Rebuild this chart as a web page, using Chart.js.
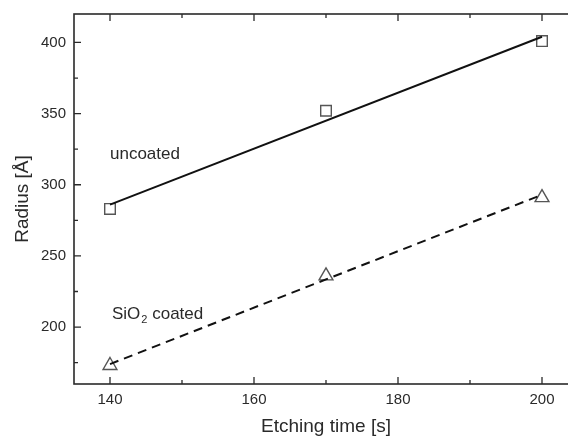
<!DOCTYPE html>
<html>
<head>
<meta charset="utf-8">
<script src="https://cdn.jsdelivr.net/npm/chart.js@4"></script>
<style>
  html, body { margin: 0; padding: 0; background: #fff; overflow: hidden; }
  #wrap { width: 568px; height: 438px; overflow: hidden; }
</style>
</head>
<body>
<div id="wrap"><canvas id="radiusChart" width="590" height="438"></canvas></div>
<script>
// measured points
const etchTimes = [140, 170, 200];
const uncoatedRadius = [283, 352, 401];
const coatedRadius = [173, 236, 291];

// linear fits (end points)
const fitTimes = [140, 200];
const uncoatedFit = [286, 404];
const coatedFit = [174, 293];

// axis ticks
const xTicks = [140, 160, 180, 200];
const xMinorTicks = [150, 170, 190];
const yTicks = [200, 250, 300, 350, 400];
const yMinorTicks = [175, 225, 275, 325, 375];

const FONT = '"Liberation Sans", Arial, sans-serif';
const INK = '#2a2a2a';

function toPoints(xs, ys) {
  return xs.map((x, i) => ({ x, y: ys[i] }));
}

// frame with inward ticks on all four sides
const framePlugin = {
  id: 'frame',
  afterDraw(chart) {
    const { ctx, chartArea: a, scales } = chart;
    ctx.save();
    ctx.strokeStyle = INK;
    ctx.lineWidth = 1.6;
    ctx.strokeRect(a.left, a.top, a.right - a.left, a.bottom - a.top);
    ctx.lineWidth = 1.3;
    const tickX = (v, len) => {
      const px = scales.x.getPixelForValue(v);
      ctx.beginPath();
      ctx.moveTo(px, a.bottom); ctx.lineTo(px, a.bottom - len);
      ctx.moveTo(px, a.top); ctx.lineTo(px, a.top + len);
      ctx.stroke();
    };
    const tickY = (v, len) => {
      const py = scales.y.getPixelForValue(v);
      ctx.beginPath();
      ctx.moveTo(a.left, py); ctx.lineTo(a.left + len, py);
      ctx.moveTo(a.right, py); ctx.lineTo(a.right - len, py);
      ctx.stroke();
    };
    xTicks.forEach(v => tickX(v, 7));
    xMinorTicks.forEach(v => tickX(v, 4));
    yTicks.forEach(v => tickY(v, 7));
    yMinorTicks.forEach(v => tickY(v, 4));
    ctx.restore();
  }
};

// curve labels
const labelPlugin = {
  id: 'curveLabels',
  afterDraw(chart) {
    const { ctx, scales } = chart;
    ctx.save();
    ctx.fillStyle = INK;
    ctx.textBaseline = 'alphabetic';
    ctx.textAlign = 'left';
    ctx.font = '17px ' + FONT;

    let x = scales.x.getPixelForValue(140);
    let y = scales.y.getPixelForValue(318);
    ctx.fillText('uncoated', x, y);

    x = scales.x.getPixelForValue(140) + 2;
    y = scales.y.getPixelForValue(206);
    ctx.fillText('SiO', x, y);
    x += ctx.measureText('SiO').width;
    ctx.font = '11px ' + FONT;
    ctx.fillText('2', x + 1, y + 4);
    x += ctx.measureText('2').width + 1;
    ctx.font = '17px ' + FONT;
    ctx.fillText(' coated', x, y);
    ctx.restore();
  }
};

new Chart(document.getElementById('radiusChart'), {
  type: 'scatter',
  data: {
    datasets: [
      {
        data: toPoints(fitTimes, uncoatedFit),
        type: 'line',
        borderColor: '#111',
        borderWidth: 2,
        pointRadius: 0,
        fill: false
      },
      {
        data: toPoints(fitTimes, coatedFit),
        type: 'line',
        borderColor: '#111',
        borderWidth: 2,
        borderDash: [9, 6],
        pointRadius: 0,
        fill: false
      },
      {
        data: toPoints(etchTimes, uncoatedRadius),
        pointStyle: 'rect',
        pointRadius: 7.5,
        borderColor: '#555',
        borderWidth: 1.4,
        backgroundColor: 'rgba(0,0,0,0)'
      },
      {
        data: toPoints(etchTimes, coatedRadius),
        pointStyle: 'triangle',
        pointRadius: 8,
        borderColor: '#555',
        borderWidth: 1.4,
        backgroundColor: 'rgba(0,0,0,0)'
      }
    ]
  },
  options: {
    responsive: false,
    animation: false,
    devicePixelRatio: 1,
    layout: { padding: { left: 0, top: 14, right: 12, bottom: 0 } },
    plugins: { legend: { display: false }, tooltip: { enabled: false } },
    scales: {
      x: {
        type: 'linear',
        min: 135,
        max: 205,
        grid: { display: false, drawTicks: false },
        border: { display: false },
        afterBuildTicks: s => { s.ticks = xTicks.map(v => ({ value: v })); },
        afterFit: s => { s.height = 54; s.paddingLeft = 0; s.paddingRight = 0; },
        ticks: { padding: 7, color: INK, font: { family: FONT, size: 15 } },
        title: {
          display: true,
          text: 'Etching time [s]',
          color: INK,
          font: { family: FONT, size: 19 },
          padding: { top: 0, bottom: 0 }
        }
      },
      y: {
        type: 'linear',
        min: 160,
        max: 420,
        grid: { display: false, drawTicks: false },
        border: { display: false },
        afterBuildTicks: s => { s.ticks = yTicks.map(v => ({ value: v })); },
        afterFit: s => { s.width = 74; s.paddingTop = 0; s.paddingBottom = 0; },
        ticks: { padding: 8, color: INK, font: { family: FONT, size: 15 } },
        title: {
          display: true,
          text: 'Radius [Å]',
          color: INK,
          font: { family: FONT, size: 19 },
          padding: { top: 11, bottom: 0 }
        }
      }
    }
  },
  plugins: [framePlugin, labelPlugin]
});
</script>
</body>
</html>
